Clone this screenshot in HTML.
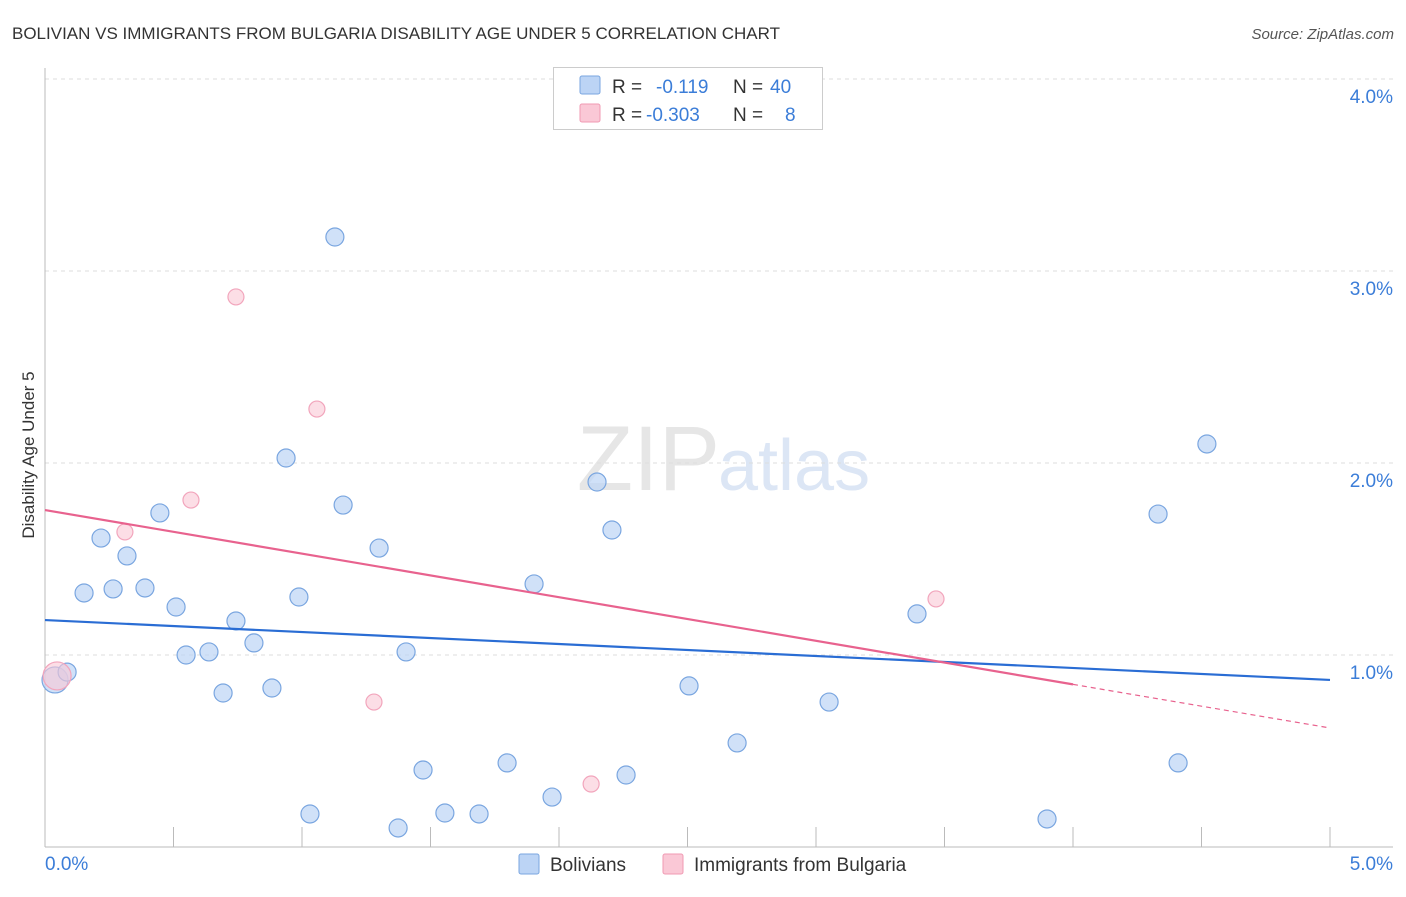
<!DOCTYPE html>
<html><head><meta charset="utf-8"><style>
body{margin:0;background:#fff;font-family:"Liberation Sans",sans-serif}
svg text{font-family:"Liberation Sans",sans-serif}
</style></head><body>
<svg width="1406" height="892" xmlns="http://www.w3.org/2000/svg">
<text x="12" y="39" font-size="17" fill="#333">BOLIVIAN VS IMMIGRANTS FROM BULGARIA DISABILITY AGE UNDER 5 CORRELATION CHART</text>
<text x="1394" y="39" font-size="15" fill="#555" font-style="italic" text-anchor="end">Source: ZipAtlas.com</text>
<text x="720" y="490" font-size="92" fill="#e6e6e6" text-anchor="end" font-family="Liberation Serif">ZIP</text>
<text x="718" y="490" font-size="72" fill="#dce6f5">atlas</text>
<g id="grid"></g><g id="axes"></g><g id="marks"></g>
<text transform="translate(34,455) rotate(-90)" font-size="17" fill="#333" text-anchor="middle">Disability Age Under 5</text>
<g>
<rect x="553.500" y="67.500" width="269" height="62" fill="#fff" stroke="#ccc"/>
<rect x="580" y="76" width="20" height="18" fill="#bcd4f5" stroke="#7aa6e0" rx="2"/>
<rect x="580" y="104" width="20" height="18" fill="#fac8d6" stroke="#f09ab3" rx="2"/>
<text x="612" y="93" font-size="19" fill="#333">R = </text><text x="656" y="93" font-size="19" fill="#3b7dd8">-0.119</text>
<text x="733" y="93" font-size="19" fill="#333">N = </text><text x="770" y="93" font-size="19" fill="#3b7dd8">40</text>
<text x="612" y="121" font-size="19" fill="#333">R = </text><text x="646" y="121" font-size="19" fill="#3b7dd8">-0.303</text>
<text x="733" y="121" font-size="19" fill="#333">N = </text><text x="785" y="121" font-size="19" fill="#3b7dd8">8</text>
</g>
<g>
<rect x="519" y="854" width="20" height="20" fill="#bcd4f5" stroke="#7aa6e0" rx="2"/>
<text x="550" y="871" font-size="19" fill="#333">Bolivians</text>
<rect x="663" y="854" width="20" height="20" fill="#fac8d6" stroke="#f09ab3" rx="2"/>
<text x="694" y="871" font-size="19" fill="#333">Immigrants from Bulgaria</text>
</g>
</svg>
<script>
const yTicks=[1,2,3,4];
const xTickLabels=["0.0%","5.0%"];
const bolX=[0.039,0.086,0.152,0.218,0.265,0.319,0.389,0.447,0.510,0.549,0.638,0.693,0.743,0.813,0.883,0.938,0.988,1.031,1.128,1.160,1.300,1.374,1.405,1.471,1.556,1.689,1.798,1.903,1.973,2.148,2.206,2.261,2.506,2.693,3.051,3.393,3.899,4.331,4.409,4.521];
const bolY=[0.870,0.911,1.323,1.609,1.344,1.516,1.349,1.740,1.250,1.000,1.016,0.802,1.177,1.063,0.828,2.026,1.302,0.172,3.177,1.781,1.557,0.099,1.016,0.401,0.177,0.172,0.438,1.370,0.260,1.901,1.651,0.375,0.839,0.542,0.755,1.214,0.146,1.734,0.438,2.099];
const bulX=[0.047,0.311,0.568,0.743,1.058,1.280,2.125,3.467];
const bulY=[0.891,1.641,1.807,2.865,2.281,0.755,0.328,1.292];
const bolTrend=[1.182,0.870];
const bulTrend=[1.755,0.620];
const NS="http://www.w3.org/2000/svg";
const X=v=>45+v/5*1285, Y=v=>847-v*192;
function mk(t,a,p){const e=document.createElementNS(NS,t);for(const k in a)e.setAttribute(k,a[k]);p.appendChild(e);return e;}
const grid=document.getElementById('grid'),axes=document.getElementById('axes'),marks=document.getElementById('marks');
yTicks.forEach(t=>{
 const l=mk('line',{x1:45,x2:1393,y1:Y(t),y2:Y(t),stroke:'#ddd','stroke-dasharray':'4,4'},grid);
 
 
 const tx=mk('text',{x:1393,y:Y(t)+24,'font-size':19,fill:'#3b7dd8','text-anchor':'end'},grid);
 tx.textContent=t.toFixed(1)+'%';
 
 
});
mk('line',{x1:45,x2:45,y1:68,y2:847,stroke:'#bbb'},axes);
mk('line',{x1:45,x2:1393,y1:847,y2:847,stroke:'#bbb'},axes);
for(let i=0;i<=10;i++){const x=X(i*0.5);mk('line',{x1:x,x2:x,y1:827,y2:847,stroke:'#bbb'},axes);}
const xl=mk('text',{x:45,y:870,'font-size':19,fill:'#3b7dd8'},axes);xl.textContent=xTickLabels[0];


const xr=mk('text',{x:1393,y:870,'font-size':19,fill:'#3b7dd8','text-anchor':'end'},axes);xr.textContent=xTickLabels[1];


bolX.forEach((x,i)=>{
 const c=mk('circle',{cx:X(x),cy:Y(bolY[i]),r:i==0?13:9,fill:'#bcd4f5','fill-opacity':0.7,stroke:'#7aa6e0','stroke-width':1.2},marks);
 
 
});
bulX.forEach((x,i)=>{
 const c=mk('circle',{cx:X(x),cy:Y(bulY[i]),r:i==0?14:8,fill:'#fac8d6','fill-opacity':0.6,stroke:'#f2a5bc','stroke-width':1.2},marks);
 
 
});
const bl=mk('line',{x1:X(0),y1:Y(bolTrend[0]),x2:X(5),y2:Y(bolTrend[1]),stroke:'#2a6dd4','stroke-width':2.2},marks);


const xe=4.0, ye=bulTrend[0]+(bulTrend[1]-bulTrend[0])*xe/5;
const pl=mk('line',{x1:X(0),y1:Y(bulTrend[0]),x2:X(xe),y2:Y(ye),stroke:'#e8628e','stroke-width':2.2},marks);


const pd=mk('line',{x1:X(xe),y1:Y(ye),x2:X(5),y2:Y(bulTrend[1]),stroke:'#e8628e','stroke-width':1.2,'stroke-dasharray':'5,4'},marks);


</script>
</body></html>
